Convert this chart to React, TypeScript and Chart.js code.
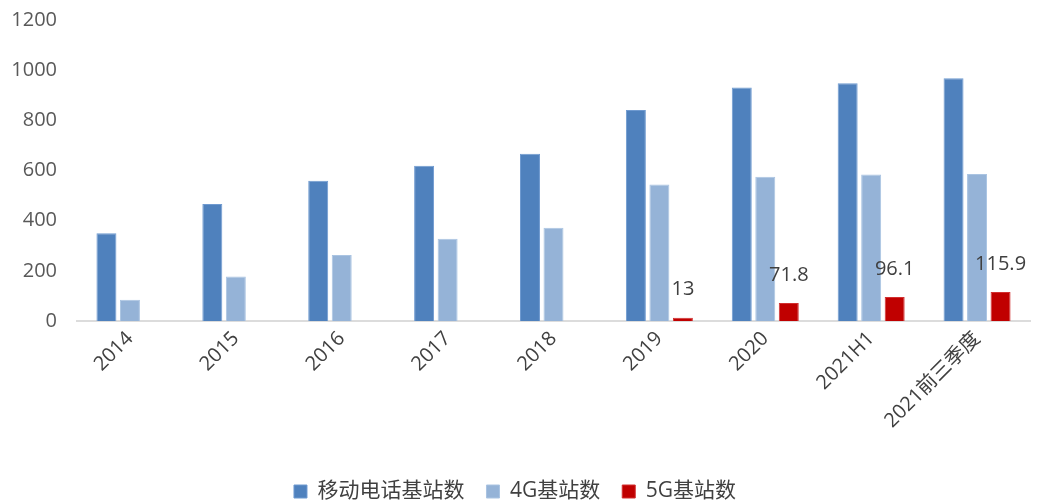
import React, { useEffect, useRef } from "react";
import { Chart, registerables } from "chart.js";

Chart.register(...registerables);

const categories = ["2014", "2015", "2016", "2017", "2018", "2019", "2020", "2021H1", "2021前三季度"];
const mobileStations = [350, 466, 559, 619, 667, 841, 931, 948, 968];
const stations4G = [85, 177, 263, 328, 372, 544, 575, 584, 586];
const stations5G: (number | null)[] = [null, null, null, null, null, 13, 71.8, 96.1, 115.9];
const seriesNames = ["移动电话基站数", "4G基站数", "5G基站数"];
const yTicks = { min: 0, max: 1200, step: 200 };

const FONT = "'Open Sans', 'Noto Sans CJK SC', sans-serif";

const labelPlugin = {
  id: "fiveGLabels",
  afterDatasetsDraw(chart: any) {
    const ctx = chart.ctx;
    const meta = chart.getDatasetMeta(2);
    ctx.save();
    ctx.font = `20px ${FONT}`;
    ctx.fillStyle = "#404040";
    ctx.textAlign = "center";
    ctx.textBaseline = "bottom";
    meta.data.forEach((bar: any, i: number) => {
      const v = stations5G[i];
      if (v === null || v === undefined) return;
      ctx.fillText(String(v), bar.x, bar.y - 18);
    });
    ctx.restore();
  },
};

export default function App() {
  const ref = useRef<HTMLCanvasElement | null>(null);
  useEffect(() => {
    document.body.style.margin = "0";
    if (!ref.current) return;
    const chart = new Chart(ref.current, {
      type: "bar",
      data: {
        labels: categories,
        datasets: [
          { label: seriesNames[0], data: mobileStations, backgroundColor: "#4F81BD", borderColor: "#6f9ad0", borderWidth: 1 },
          { label: seriesNames[1], data: stations4G, backgroundColor: "#95B3D7", borderColor: "#aac4e2", borderWidth: 1 },
          { label: seriesNames[2], data: stations5G, backgroundColor: "#C00000", borderColor: "#d23030", borderWidth: 1 },
        ],
      },
      options: {
        responsive: false,
        animation: false,
        datasets: { bar: { categoryPercentage: 0.666, barPercentage: 0.85 } },
        layout: { padding: { top: 20, right: 9, left: 0, bottom: -10 } },
        plugins: {
          tooltip: { enabled: false },
          legend: {
            position: "bottom",
            labels: {
              boxWidth: 13,
              boxHeight: 13,
              padding: 22,
              color: "#404040",
              font: { size: 21, family: FONT },
            },
          },
        },
        scales: {
          x: {
            grid: { display: false, drawTicks: false },
            border: { display: true, color: "#dcdcdc", width: 2 },
            ticks: {
              maxRotation: 45,
              minRotation: 45,
              color: "#404040",
              padding: 6,
              font: { size: 20, family: FONT },
            },
            afterFit(scale: any) {
              scale.height = 138;
            },
          },
          y: {
            min: yTicks.min,
            max: yTicks.max,
            grid: { display: false, drawTicks: false },
            border: { display: false },
            ticks: {
              stepSize: yTicks.step,
              color: "#595959",
              padding: 20,
              font: { size: 20, family: FONT },
              callback: (v: any) => String(v),
            },
            afterFit(scale: any) {
              scale.width = 77;
              scale.paddingTop = 0;
              scale.paddingBottom = 0;
            },
          },
        },
      },
      plugins: [labelPlugin],
    });
    return () => chart.destroy();
  }, []);
  return (
    <div style={{ width: 1039, height: 502 }}>
      <canvas ref={ref} width={1039} height={502} />
    </div>
  );
}
